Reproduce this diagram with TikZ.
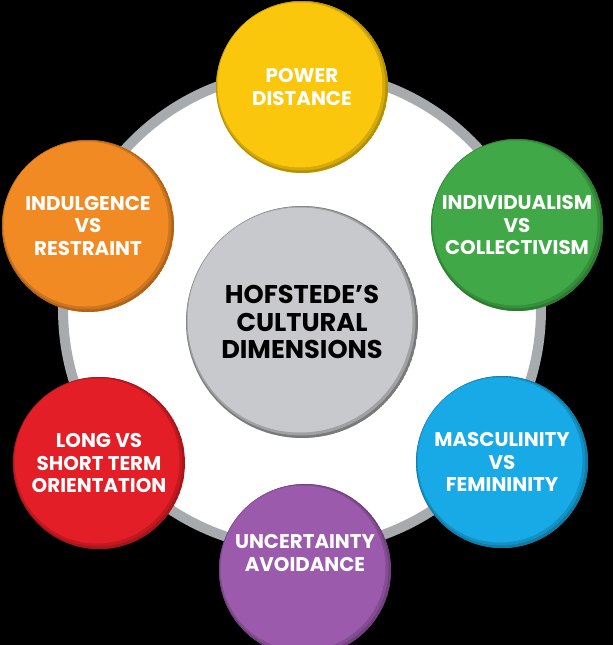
\documentclass[tikz,border=0pt]{standalone}
\usepackage{fontspec}
\setmainfont{Poppins}
\usetikzlibrary{positioning,calc}

\definecolor{powercol}{RGB}{250,199,12}
\definecolor{indivcol}{RGB}{64,168,70}
\definecolor{masccol}{RGB}{24,170,230}
\definecolor{uncertcol}{RGB}{155,90,172}
\definecolor{longcol}{RGB}{228,30,38}
\definecolor{indulgcol}{RGB}{242,138,36}
\definecolor{hubcol}{RGB}{200,201,204}
\definecolor{ringcol}{RGB}{168,171,174}

\tikzset{
    x=0.02cm,
    y=-0.02cm,
    dimension/.style = {
        shape=circle,
        minimum size=3.44cm,
        inner sep=0pt,
        align=center,
        text=white,
        font=\fontsize{11.3}{12.6}\selectfont\bfseries,
        fill=#1,
        path picture={
            \fill[#1!72!black] (path picture bounding box.center) circle (1.72cm);
            \fill[#1!85!black] ([shift={(-0.02cm,0.02cm)}]path picture bounding box.center) circle (1.69cm);
            \fill[#1] ([shift={(-0.04cm,0.04cm)}]path picture bounding box.center) circle (1.65cm);
        }
    },
    hub/.style = {
        shape=circle,
        minimum size=4.64cm,
        inner sep=0pt,
        align=center,
        text=black,
        font=\fontsize{14.6}{15.6}\selectfont\bfseries,
        fill=hubcol,
        path picture={
            \fill[hubcol!60!black] (path picture bounding box.center) circle (2.32cm);
            \fill[hubcol!80!black] ([shift={(-0.02cm,0.02cm)}]path picture bounding box.center) circle (2.29cm);
            \fill[hubcol] ([shift={(-0.04cm,0.04cm)}]path picture bounding box.center) circle (2.25cm);
        }
    },
}

\begin{document}
\begin{tikzpicture}

    % background and ring
    \fill[black] (0,0) rectangle (613,645);
    \useasboundingbox (0,0) rectangle (613,645);
    \coordinate (ringc) at (302,310);
    \fill[white] (ringc) circle (4.78cm);
    \draw[ringcol, line width=0.2cm] (ringc) circle (4.78cm);

    \node[hub] (hofstede) at (302,322) {HOFSTEDE'S\\CULTURAL\\DIMENSIONS};

    \node[dimension=powercol] (power) at (302,87) {POWER\\DISTANCE};
    \node[dimension=indivcol] (indiv) at (517,225) {INDIVIDUALISM\\VS\\COLLECTIVISM};
    \node[dimension=masccol] (masc) at (502,462) {MASCULINITY\\VS\\FEMININITY};
    \node[dimension=uncertcol, text depth=0.68cm] (uncert) at (305,570) {UNCERTAINTY\\AVOIDANCE};
    \node[dimension=longcol] (longterm) at (99,463) {LONG VS\\SHORT TERM\\ORIENTATION};
    \node[dimension=indulgcol] (indulg) at (88,226) {INDULGENCE\\VS\\RESTRAINT};

\end{tikzpicture}
\end{document}
